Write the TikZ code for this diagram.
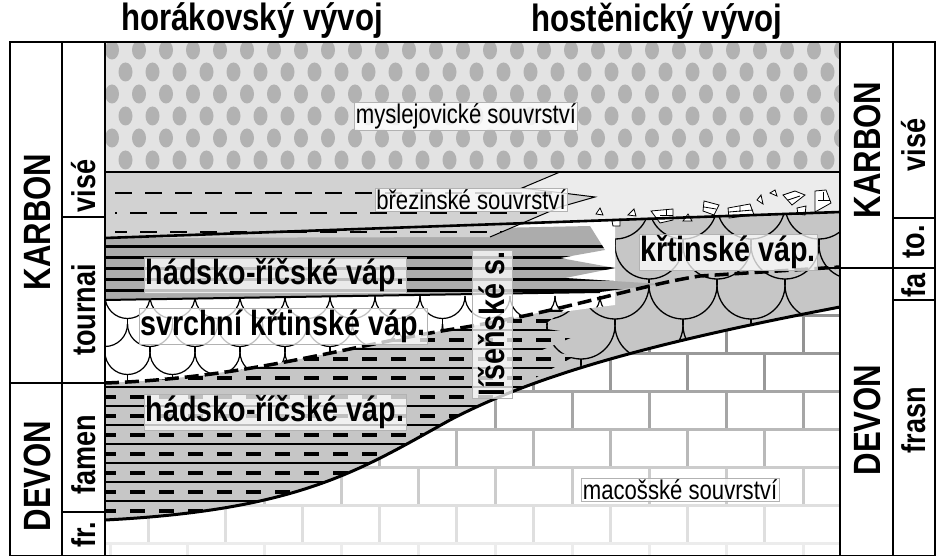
\documentclass[tikz,border=0pt]{standalone}
\usepackage{fontspec}
\setmainfont{Liberation Sans}
\newfontfamily\narrowfont[FakeStretch=0.82]{Liberation Sans}
\usetikzlibrary{positioning}

\tikzset{
  title/.style={font=\narrowfont\bfseries\fontsize{38}{38}\selectfont, inner sep=0pt},
  sysname/.style={font=\narrowfont\bfseries\fontsize{38}{38}\selectfont, rotate=90, inner sep=0pt},
  stagename/.style={font=\narrowfont\bfseries\fontsize{33}{33}\selectfont, rotate=90, inner sep=0pt},
  lbl/.style={font=\narrowfont\bfseries\fontsize{35}{35}\selectfont, fill=white, fill opacity=0.75, text opacity=1, draw=gray!60, thin, inner sep=1.5pt},
  smlbl/.style={font=\narrowfont\fontsize{27}{27}\selectfont, fill=white, fill opacity=0.8, text opacity=1, draw=gray!60, thin, inner sep=1.5pt},
  frag/.style={fill=white, draw=black, line width=0.8pt},
  boundary/.style={line width=2.6pt},
}

\begin{document}
\begin{tikzpicture}[x=1pt,y=-1pt]
	\useasboundingbox (0,0) rectangle (945,556);
	\fill[white] (0,0) rectangle (945,556);
	% bricks (macosske)
	\fill[white] (105,172) rectangle (840,556);
	\begin{scope}
	\clip (840,307) .. controls (640,345) and (530,378) .. (450,420) .. controls (360,470) and (300,510) .. (105,520) -- (105,556) -- (840,556) -- cycle;
	\foreach \k/\c in {0/85,1/80,2/70,3/55,4/40,5/25,6/15} {
		\pgfmathsetmacro\yy{315+38*\k}
		\draw[gray!\c!white, line width=3pt] (105,\yy) -- (840,\yy);
		\pgfmathsetmacro\off{mod(\k,2)*38.5}
		\foreach \j in {0,...,10} {
			\draw[gray!\c!white, line width=3pt] (110+\off+77*\j,\yy) -- (110+\off+77*\j,\yy+38);
		}
	}
	\end{scope}
	% grey krtinske limestone between brezinske and bold curve
	\begin{scope}
	\clip (105,238) -- (840,212) -- (840,307) .. controls (640,345) and (530,378) .. (450,420) .. controls (360,470) and (300,510) .. (105,520) -- cycle;
	\fill[gray!45] (105,200) rectangle (840,530);
	\foreach \i in {0,...,8} {
		\pgfmathsetmacro\yy{205+40*\i}
		\pgfmathsetmacro\off{mod(\i,2)*34}
		\foreach \j in {-1,...,11} {
			\draw[line width=1.3pt] (105+\off+68*\j,\yy) arc[start angle=180, end angle=0, radius=34];
			\draw[line width=1.3pt] (139+\off+68*\j,\yy+34) -- (139+\off+68*\j,\yy+40);
		}
	}
	\end{scope}
	% white svrchni krtinske limestone
	\begin{scope}
	\clip (105,238) -- (615,220) -- (615,305) .. controls (560,312) .. (460,328) .. controls (350,345) and (250,378) .. (105,383) -- cycle;
	\fill[white] (105,220) rectangle (620,390);
	\foreach \i in {0,...,6} {
		\pgfmathsetmacro\yy{296+28*\i}
		\pgfmathsetmacro\off{mod(\i,2)*22.5}
		\foreach \j in {-1,...,12} {
			\draw[line width=1.2pt] (105+\off+45*\j,\yy) arc[start angle=180, end angle=0, radius=22.5];
			\draw[line width=1.2pt] (127.5+\off+45*\j,\yy+22.5) -- (127.5+\off+45*\j,\yy+28);
		}
	}
	\end{scope}
	% hadsko-ricske (famen)
	\begin{scope}
	\clip (105,383) .. controls (250,378) and (350,345) .. (460,328) .. controls (560,312) and (640,285) .. (700,276) -- (840,267) -- (840,556) -- (105,556) -- cycle;
	\clip (105,290) -- (590,290) -- (540,328) -- (580,334) -- (542,350) -- (575,356) -- (535,378) -- (535,556) -- (105,556) -- cycle;
	\clip (840,307) .. controls (640,345) and (530,378) .. (450,420) .. controls (360,470) and (300,510) .. (105,520) -- (105,250) -- (840,250) -- cycle;
	\fill[gray!45] (105,280) rectangle (600,530);
	\foreach \k in {0,...,12} {
		\draw[line width=2.5pt] (105,292+19*\k) -- (600,292+19*\k);
		\draw[line width=4pt, dash pattern=on 15pt off 14pt, dash phase=4pt] (105,301.5+19*\k) -- (600,301.5+19*\k);
	}
	\end{scope}
	\draw[line width=3pt] (840,307) .. controls (640,345) and (530,378) .. (450,420) .. controls (360,470) and (300,510) .. (105,520);
	% dark hadsko-ricske (tournai)
	\begin{scope}
	\clip (105,236) -- (590,226) -- (605,250) -- (560,258) -- (615,268) -- (565,278) -- (662,284) -- (600,292) -- (105,300) -- cycle;
	\fill[gray!65] (105,220) rectangle (670,300);
	\foreach \k in {0,...,5} {
		\draw[line width=3pt] (105,246+11*\k) -- (670,246+11*\k);
	}
	\end{scope}
	\draw[line width=2pt] (105,300) -- (600,292);
	\draw[line width=3.5pt, dash pattern=on 14pt off 6pt] (105,383) .. controls (250,378) and (350,345) .. (460,328) .. controls (560,312) and (640,285) .. (700,276) -- (840,267);
	% brezinske
	\fill[gray!15] (105,172) -- (840,172) -- (840,212) -- (105,238) -- cycle;
	\begin{scope}
	\clip (105,172) -- (560,172) -- (522,188) -- (595,197) -- (560,207) -- (490,237) -- (105,238) -- cycle;
	\fill[gray!35] (105,170) rectangle (600,240);
	\foreach \yy/\ph in {193/0,213/15,232/5} {
		\draw[line width=1.2pt, dash pattern=on 17pt off 13pt, dash phase=\ph pt] (115,\yy) -- (600,\yy);
	}
	\end{scope}
	\draw[line width=1pt] (560,172) -- (522,188) -- (595,197) -- (560,207) -- (490,237);
	% breccia fragments
	\filldraw[frag] (596,214) -- (600,208) -- (603,215) -- cycle;
	\filldraw[frag] (612,221) -- (620,219) -- (620,226) -- (613,226) -- cycle;
	\filldraw[frag] (628,215) -- (634,209) -- (636,216) -- cycle;
	\filldraw[frag] (651,211) -- (673,209) -- (673,220) -- (660,223) -- cycle;
	\draw[line width=0.8pt] (660,215) -- (673,215) (666,209) -- (666,215);
	\filldraw[frag] (683,221) -- (688,214) -- (692,221) -- cycle;
	\filldraw[frag] (704,201) -- (719,205) -- (714,215) -- (703,211) -- cycle;
	\draw[line width=0.8pt] (704,207) -- (716,209);
	\filldraw[frag] (728,208) -- (750,204) -- (754,215) -- (729,218) -- cycle;
	\draw[line width=0.8pt] (729,212) -- (753,210) (740,206) -- (740,212);
	\filldraw[frag] (757,200) -- (761,195) -- (763,204) -- cycle;
	\filldraw[frag] (770,193) -- (775,190) -- (777,196) -- cycle;
	\filldraw[frag] (783,195) -- (795,191) -- (805,195) -- (792,205) -- cycle;
	\draw[line width=0.8pt] (788,200) -- (800,196);
	\filldraw[frag] (797,208) -- (806,206) -- (805,215) -- (798,214) -- cycle;
	\filldraw[frag] (815,191) -- (826,190) -- (831,203) -- (815,212) -- cycle;
	\draw[line width=0.8pt] (818,200) -- (830,200) (823,192) -- (823,200);
	\draw[boundary] (105,238) -- (840,212);
	% myslejovicke
	\fill[gray!22] (105,42) rectangle (840,172);
	\begin{scope}
	\clip (105,42) rectangle (840,172);
	\foreach \i in {0,...,6} {
		\pgfmathsetmacro\off{mod(\i,2)*13.5}
		\foreach \j in {0,...,27} {
			\fill[gray!60] (112+\off+27*\j,50+22*\i) ellipse[x radius=7, y radius=9.5];
		}
	}
	\end{scope}
	\draw[line width=1.5pt] (105,172) -- (840,172);
	% frame and columns
	\draw[line width=1.5pt] (10,42) rectangle (935,556);
	\draw[line width=1.5pt] (62,42) -- (62,556) (105,42) -- (105,556) (840,42) -- (840,556) (893,42) -- (893,556);
	\draw[boundary] (10,383) -- (105,383);
	\draw[boundary] (820,268) -- (935,268);
	\draw[line width=1.5pt] (62,217) -- (105,217) (62,512) -- (105,512);
	\draw[line width=1.5pt] (893,218) -- (935,218) (893,300) -- (935,300);
	% texts
	\node[title] (horak) at (252,21) {horákovský vývoj};
	\node[title] (hosten) at (657,21) {hostěnický vývoj};
	\node[sysname] (karbonL) at (37,222) {KARBON};
	\node[sysname] (devonL) at (37,476) {DEVON};
	\node[stagename] (viseL) at (84,186) {visé};
	\node[stagename] (tournaiL) at (84,310) {tournai};
	\node[stagename] (famenL) at (84,455) {famen};
	\node[stagename] (frL) at (84,535) {fr.};
	\node[sysname] (karbonR) at (867,150) {KARBON};
	\node[sysname] (devonR) at (867,420) {DEVON};
	\node[stagename] (viseR) at (914,145) {visé};
	\node[stagename] (toR) at (914,242) {to.};
	\node[stagename] (faR) at (914,285) {fa};
	\node[stagename] (frasnR) at (914,420) {frasn};
	\node[smlbl] (myslej) at (466,116) {myslejovické souvrství};
	\node[smlbl] (brezin) at (471,200) {březinské souvrství};
	\node[lbl] (hadskoT) at (275,275) {hádsko-říčské váp.};
	\node[lbl] (svrchni) at (283,326) {svrchní křtinské váp.};
	\node[lbl] (hadskoF) at (275,412) {hádsko-říčské váp.};
	\node[lbl] (krtin) at (728,252) {křtinské váp.};
	\node[lbl, rotate=90, minimum height=40pt] (lisen) at (492,324) {líšeňské s.};
	\node[smlbl] (macos) at (680,490) {macošské souvrství};
\end{tikzpicture}
\end{document}
